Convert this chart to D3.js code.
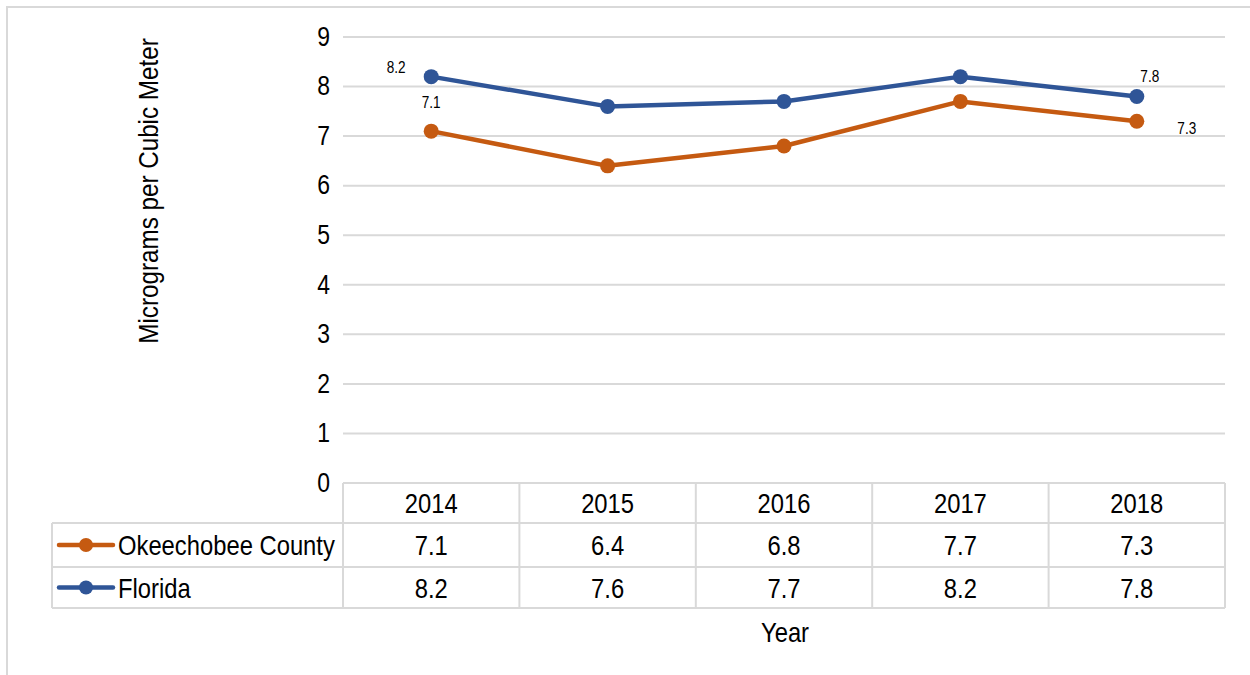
<!DOCTYPE html>
<html><head><meta charset="utf-8">
<script src="https://cdn.jsdelivr.net/npm/d3@7"></script>
<style>
body{margin:0;background:#fff;}
svg text{font-family:"Liberation Sans Narrow","Arial Narrow","Liberation Sans",Arial,sans-serif;fill:#000;}
</style></head>
<body>
<svg id="c" width="1250" height="675"></svg>
<script>
const years = ["2014","2015","2016","2017","2018"];
const seriesNames = ["Okeechobee County","Florida"];
const okeechobee = [7.1, 6.4, 6.8, 7.7, 7.3];
const florida = [8.2, 7.6, 7.7, 8.2, 7.8];
const yTicks = [0,1,2,3,4,5,6,7,8,9];
const colors = ["#c55a11","#2f5597"];

const series = [
  {name: seriesNames[0], values: okeechobee, color: colors[0]},
  {name: seriesNames[1], values: florida, color: colors[1]}
];

const svg = d3.select("#c");
const grid = "#d9d9d9";
const L = 343, R = 1225, T = 37, B = 483;
const rowTops = [483, 523, 567, 608];
const tableLeft = 52;
const SX = 0.85;

function ctext(g, px, py, str, size, anchor, extra){
  return g.append("text")
    .attr("transform",`translate(${px},${py})${extra||""} scale(${SX},1)`)
    .attr("text-anchor",anchor||"middle").attr("dy","0.36em")
    .attr("font-size",size).text(str);
}

// outer border
svg.append("rect").attr("x",7).attr("y",7).attr("width",1260).attr("height",700)
  .attr("fill","none").attr("stroke",grid).attr("stroke-width",2);

const x = d3.scaleBand().domain(years).range([L,R]).padding(0);
const y = d3.scaleLinear().domain([0,9]).range([B,T]);
const cx = yr => x(yr)+x.bandwidth()/2;

// gridlines
svg.append("g").selectAll("line").data(yTicks.filter(d=>d>0)).join("line")
  .attr("x1",L).attr("x2",R).attr("y1",d=>y(d)).attr("y2",d=>y(d))
  .attr("stroke",grid).attr("stroke-width",2);

// y axis labels
const ya = svg.append("g");
yTicks.forEach(t=>ctext(ya, L-13, y(t)-1, d3.format("d")(t), 27, "end"));

// y title
ctext(svg, 148, 191, "Micrograms per Cubic Meter", 28.5, "middle", " rotate(-90)");

// lines
const line = d3.line().x((d,i)=>cx(years[i])).y(d=>y(d));
series.forEach(s=>{
  svg.append("path").datum(s.values).attr("d",line).attr("fill","none")
    .attr("stroke",s.color).attr("stroke-width",4.5).attr("stroke-linejoin","round");
  svg.append("g").selectAll("circle").data(s.values).join("circle")
    .attr("cx",(d,i)=>cx(years[i])).attr("cy",d=>y(d)).attr("r",7.5)
    .attr("fill",s.color);
});

// data labels (first and last points)
const labelOffsets = [
  {s:1,i:0,dx:-35,dy:-9},
  {s:0,i:0,dx:0,dy:-29},
  {s:1,i:4,dx:13,dy:-20},
  {s:0,i:4,dx:50,dy:7}
];
labelOffsets.forEach(o=>{
  const v = series[o.s].values[o.i];
  ctext(svg, cx(years[o.i])+o.dx, y(v)+o.dy, v.toFixed(1), 16, "middle");
});

// data table
const tg = svg.append("g");
const hl = (x1,x2,yy)=>tg.append("line").attr("x1",x1).attr("x2",x2).attr("y1",yy).attr("y2",yy).attr("stroke",grid).attr("stroke-width",2);
const vl = (xx,y1,y2)=>tg.append("line").attr("x1",xx).attr("x2",xx).attr("y1",y1).attr("y2",y2).attr("stroke",grid).attr("stroke-width",2);
hl(L,R,rowTops[0]);
rowTops.slice(1).forEach(yy=>hl(tableLeft,R,yy));
vl(tableLeft,rowTops[1],rowTops[3]);
years.forEach(yr=>vl(x(yr),rowTops[0],rowTops[3]));
vl(R,rowTops[0],rowTops[3]);

// header years
years.forEach(yr=>ctext(tg, cx(yr), (rowTops[0]+rowTops[1])/2, yr, 28, "middle"));

series.forEach((s,si)=>{
  const cy = (rowTops[si+1]+rowTops[si+2])/2;
  s.values.forEach((v,i)=>ctext(tg, cx(years[i]), cy, v.toFixed(1), 28, "middle"));
  tg.append("line").attr("x1",59).attr("x2",113).attr("y1",cy).attr("y2",cy)
    .attr("stroke",s.color).attr("stroke-width",4.5).attr("stroke-linecap","round");
  tg.append("circle").attr("cx",86).attr("cy",cy).attr("r",7).attr("fill",s.color);
  ctext(tg, 118, cy, s.name, 28, "start");
});

// x title
ctext(svg, 785, 632, "Year", 28, "middle");
</script>
</body></html>
